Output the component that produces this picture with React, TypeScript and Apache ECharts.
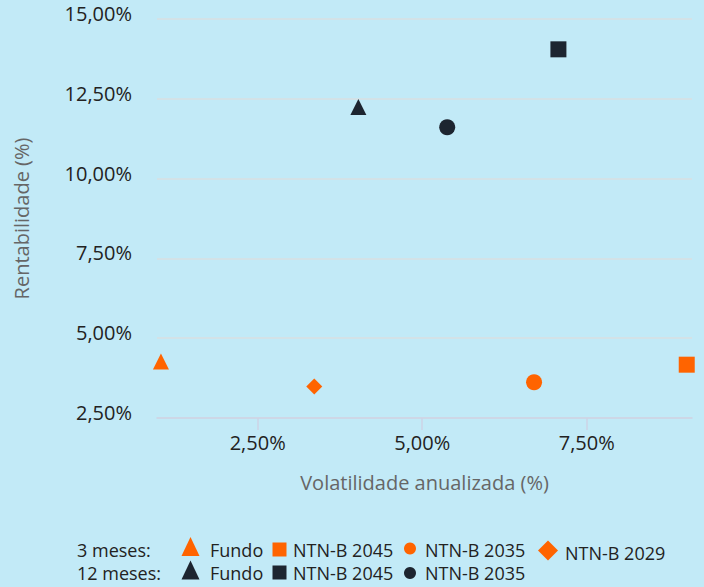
import React, { useEffect, useRef } from "react";
import * as echarts from "echarts";

const legendRows = ["3 meses:", "12 meses:"];
const names3m = ["Fundo", "NTN-B 2045", "NTN-B 2035", "NTN-B 2029"];
const vol3m = [1.03, 9.02, 6.7, 3.36];
const ret3m = [4.27, 4.17, 3.62, 3.49];
const names12m = ["Fundo", "NTN-B 2045", "NTN-B 2035"];
const vol12m = [4.03, 7.07, 5.38];
const ret12m = [12.24, 14.05, 11.61];
const symbols = ["triangle", "rect", "circle", "diamond"];
const xTicks = [2.5, 5, 7.5];

const ORANGE = "#ff6400";
const DARK = "#1d2530";
const BG = "#c2eaf7";
const FONT = "Open Sans";

const fmt = (v: number) => v.toFixed(2).replace(".", ",") + "%";

export default function App() {
  const ref = useRef<HTMLDivElement>(null);
  useEffect(() => {
    document.body.style.margin = "0";
    const chart = echarts.init(ref.current!, undefined, { renderer: "svg" });
    const series: any[] = [];
    names3m.forEach((n, i) => {
      series.push({
        type: "scatter",
        name: n + " (3 meses)",
        symbol: symbols[i],
        symbolSize: 16,
        itemStyle: { color: ORANGE, opacity: 1 },
        data: [[vol3m[i], ret3m[i]]],
      });
    });
    names12m.forEach((n, i) => {
      series.push({
        type: "scatter",
        name: n + " (12 meses)",
        symbol: symbols[i],
        symbolSize: 16,
        itemStyle: { color: DARK, opacity: 1 },
        data: [[vol12m[i], ret12m[i]]],
      });
    });

    const txt = (x: number, y: number, t: string) => ({
      type: "text",
      x,
      y,
      style: { text: t, fill: "#222", font: `18px "${FONT}"`, verticalAlign: "middle", align: "left" },
    });
    const tri = (cx: number, cy: number, c: string) => ({
      type: "polygon",
      shape: { points: [[cx, cy - 9.5], [cx + 9, cy + 9.5], [cx - 9, cy + 9.5]] },
      style: { fill: c },
    });
    const sq = (cx: number, cy: number, c: string) => ({
      type: "rect",
      shape: { x: cx - 7, y: cy - 7, width: 14, height: 14 },
      style: { fill: c },
    });
    const circ = (cx: number, cy: number, c: string) => ({
      type: "circle",
      shape: { cx, cy, r: 6 },
      style: { fill: c },
    });
    const dia = (cx: number, cy: number, c: string) => ({
      type: "polygon",
      shape: { points: [[cx, cy - 10], [cx + 10, cy], [cx, cy + 10], [cx - 10, cy]] },
      style: { fill: c },
    });
    const r1 = 550, r2 = 573;
    const graphic: any[] = [
      txt(77, r1, legendRows[0]),
      txt(77, r2, legendRows[1]),
      tri(190.5, 546.5, ORANGE),
      txt(210, r1, names3m[0]),
      sq(279.5, 549.5, ORANGE),
      txt(293, r1, names3m[1]),
      circ(410, 548.5, ORANGE),
      txt(425, r1, names3m[2]),
      dia(548, 550.5, ORANGE),
      txt(565, 553, names3m[3]),
      tri(190.5, 570, DARK),
      txt(210, r2, names12m[0]),
      sq(279.5, 572.5, DARK),
      txt(293, r2, names12m[1]),
      circ(410, 573, DARK),
      txt(425, r2, names12m[2]),
    ];

    chart.setOption({
      animation: false,
      backgroundColor: BG,
      textStyle: { fontFamily: FONT },
      grid: { left: 157, right: 12, top: 19, bottom: 169 },
      xAxis: {
        type: "value",
        min: 0.97,
        max: 9.1,
        name: "Volatilidade anualizada (%)",
        nameLocation: "middle",
        nameGap: 54,
        nameTextStyle: { color: "#666", fontSize: 20, fontFamily: FONT },
        axisLine: { show: true, lineStyle: { color: "#ccd3e6", width: 1.5 } },
        axisTick: { show: true, length: 12, customValues: xTicks, lineStyle: { color: "#ccd3e6", width: 1.5 } },
        axisLabel: {
          customValues: xTicks,
          formatter: (v: number) => fmt(v),
          color: "#222",
          fontSize: 20,
          fontFamily: FONT,
          margin: 14,
        },
        splitLine: { show: false },
      },
      yAxis: {
        type: "value",
        min: 2.5,
        max: 15,
        interval: 2.5,
        name: "Rentabilidade (%)",
        nameLocation: "middle",
        nameGap: 126,
        nameTextStyle: { color: "#666", fontSize: 20, fontFamily: FONT },
        axisLine: { show: false },
        axisTick: { show: false },
        axisLabel: {
          formatter: (v: number) => fmt(v),
          color: "#222",
          fontSize: 20,
          fontFamily: FONT,
          margin: 25,
          verticalAlign: "bottom",
          lineHeight: 11,
        },
        splitLine: { show: true, lineStyle: { color: "#d9dfe2", width: 1.5 } },
      },
      graphic,
      series,
    });
    return () => chart.dispose();
  }, []);
  return <div ref={ref} style={{ width: 704, height: 587 }} />;
}
